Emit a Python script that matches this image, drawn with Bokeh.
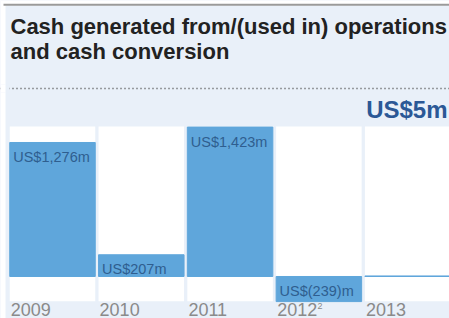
from bokeh.plotting import figure
from bokeh.models import Range1d, Label, Span, ColumnDataSource, BoxAnnotation
from bokeh.core.properties import value
from bokeh.embed import file_html
from bokeh.resources import INLINE

# ---- data ----
years = ["2009", "2010", "2011", "2012", "2013"]
year_notes = ["", "", "", "2", ""]
cash_m = [1276, 207, 1423, -239, 5]
bar_labels = ["US$1,276m", "US$207m", "US$1,423m", "US$(239)m", ""]
title_lines = ["Cash generated from/(used in) operations", "and cash conversion"]
headline = "US$5m"

# ---- styles ----
BG = "#e9f0f9"
BAR = "#5fa6db"
LABEL_C = "#2f5e8f"
TITLE_C = "#222222"
HEAD_C = "#2b5896"
YEAR_C = "#8a8a8a"
FONT = "Liberation Sans"

W, H = 449, 318
p = figure(width=W, height=H,
           x_range=Range1d(-0.5856, 4.471),
           y_range=Range1d(-400, 2628),
           output_backend="svg", toolbar_location=None,
           x_axis_location=None, y_axis_location=None, min_border=0)
p.grid.visible = False
p.outline_line_color = None
p.background_fill_color = BG
p.border_fill_color = BG

idx = list(range(len(years)))
src = ColumnDataSource(dict(
    x=idx, year=years, cash=cash_m, label=bar_labels, note=year_notes,
    label_y=[max(v, 0) for v in cash_m],
))

# white column panels
p.vbar(x="x", top=1428, bottom=-235, width=0.963, source=src,
       fill_color="white", line_color=None)
# bars
p.vbar(x="x", top="cash", bottom=0, width=0.963, source=src,
       fill_color=BAR, line_color=BAR, line_width=1)
# bar value labels
p.text(x="x", y="label_y", text="label", source=src,
       x_offset=-39.3, y_offset=14.5, text_align="left", text_baseline="alphabetic",
       text_font=value(FONT), text_font_size="14.5px", text_color=LABEL_C)
# year labels
p.text(x="x", y=-400, text="year", source=src,
       x_offset=-41.7, y_offset=-9.5, text_align="left", text_baseline="alphabetic",
       text_font=value(FONT), text_font_size="18px", text_color=YEAR_C)
p.text(x="x", y=-400, text="note", source=src,
       x_offset=-1.5, y_offset=-13, text_align="left", text_baseline="alphabetic",
       text_font=value(FONT), text_font_size="9px", text_color=YEAR_C)

# page edge: white strips and grey top rule
def sbox(l, r, b, t, color):
    return BoxAnnotation(left=l, right=r, bottom=b, top=t,
                         left_units="screen", right_units="screen",
                         bottom_units="screen", top_units="screen",
                         fill_color=color, fill_alpha=1, line_color=None)

p.add_layout(sbox(0, 5, 0, H, "white"))
p.add_layout(sbox(0, W, H - 5, H, "white"))
p.add_layout(sbox(3, W, H - 5.3, H - 3.3, "#9a9a9a"))

# title
for i, t in enumerate(title_lines):
    p.add_layout(Label(x=10, y=H - 26 - 25 * i, x_units="screen", y_units="screen",
                       text=t, text_font=FONT, text_font_style="bold",
                       text_font_size="22px", text_color=TITLE_C,
                       text_baseline="alphabetic"))
# dotted rule
p.add_layout(Span(location=H - 88, location_units="screen", dimension="width",
                  line_color="#444444", line_width=1.4, line_dash="1 3"))
p.add_layout(sbox(0, 9, H - 92, H - 84, BG))
p.add_layout(sbox(0, 5, H - 92, H - 84, "white"))
# headline
p.add_layout(Label(x=W - 2, y=H - 109, x_units="screen", y_units="screen",
                   text=headline, text_font=FONT, text_font_style="bold",
                   text_font_size="24px", text_color=HEAD_C, text_align="right",
                   text_baseline="alphabetic"))

open("out.html", "w").write(file_html(p, INLINE))
